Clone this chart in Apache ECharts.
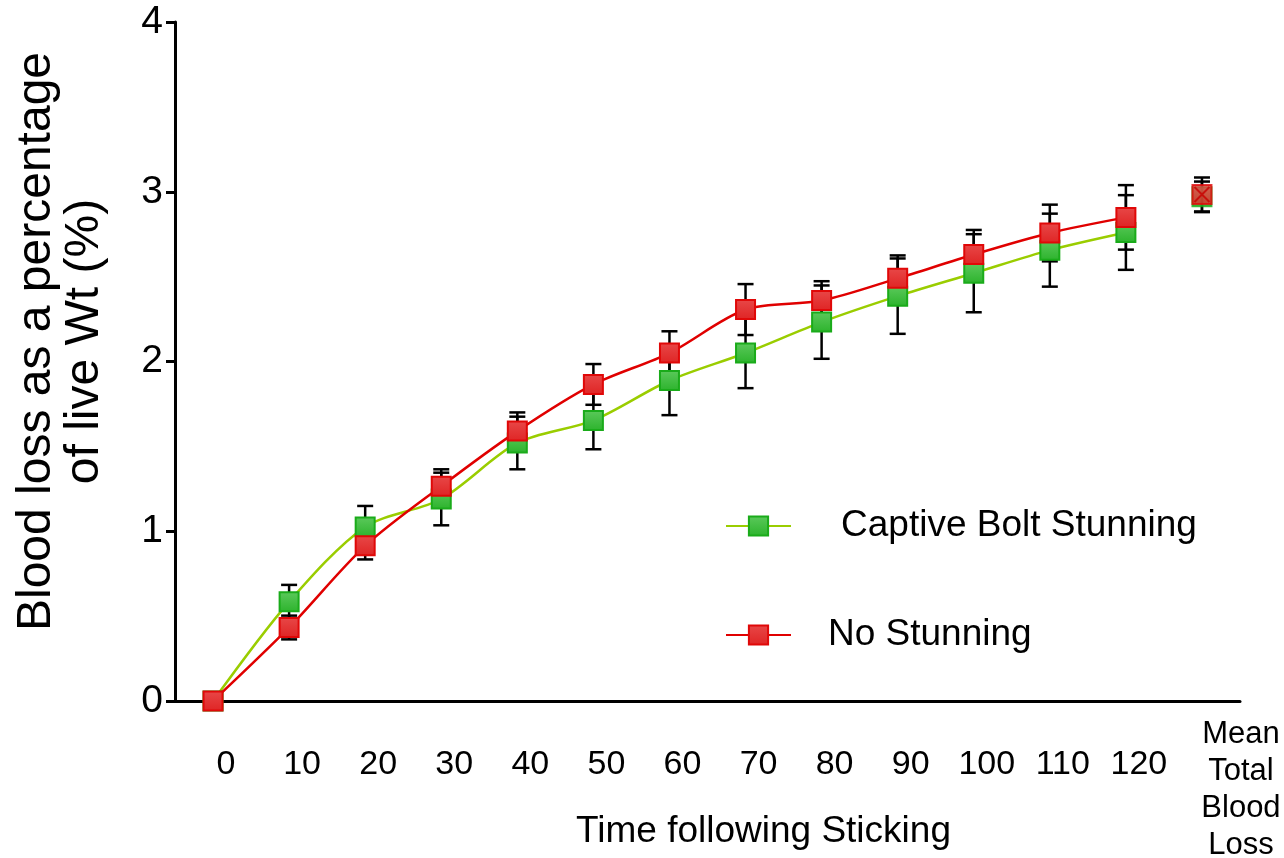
<!DOCTYPE html>
<html>
<head>
<meta charset="utf-8">
<script src="https://cdn.jsdelivr.net/npm/echarts@6/dist/echarts.min.js"></script>
<style>
  html, body { margin: 0; padding: 0; background: #fff; }
  #chart { width: 1284px; height: 858px; }
</style>
</head>
<body>
<div id="chart"></div>
<script>
// categories on the x axis (last one is the total)
let categories = ["0", "10", "20", "30", "40", "50", "60", "70", "80", "90", "100", "110", "120", "Mean\nTotal\nBlood\nLoss"];
let yTicks = [0, 1, 2, 3, 4];

// Captive Bolt Stunning: mean and error per time point
let boltMean = [0, 0.584, 1.025, 1.19, 1.52, 1.653, 1.888, 2.05, 2.232, 2.385, 2.52, 2.656, 2.76, 2.97];
let boltErr = [0, 0.10, 0.124, 0.155, 0.155, 0.17, 0.204, 0.207, 0.216, 0.222, 0.23, 0.215, 0.22, 0.09];

// No Stunning
let noneMean = [0, 0.433, 0.914, 1.265, 1.59, 1.865, 2.05, 2.306, 2.359, 2.49, 2.63, 2.757, 2.849, 2.984];
let noneErr = [0, 0.07, 0.08, 0.10, 0.11, 0.12, 0.128, 0.15, 0.114, 0.135, 0.145, 0.167, 0.19, 0.10];

const fontFam = '"Liberation Sans", Arial, sans-serif';
const last = categories.length - 1;

function lineData(arr) {
  return arr.map(function (v, i) { return i < last ? v : "-"; });
}
function totalData(arr) {
  return arr.map(function (v, i) { return i === last ? v : "-"; });
}
function errData(mean, err) {
  return mean.map(function (v, i) { return [i, v, err[i]]; });
}

function renderErr(params, api) {
  var i = api.value(0), m = api.value(1), e = api.value(2);
  if (!e) return;
  var hi = api.coord([i, m + e]);
  var lo = api.coord([i, m - e]);
  var w = 8;
  var st = { stroke: "#000", lineWidth: 2.5 };
  return {
    type: "group",
    children: [
      { type: "line", shape: { x1: hi[0], y1: hi[1], x2: lo[0], y2: lo[1] }, style: st },
      { type: "line", shape: { x1: hi[0] - w, y1: hi[1], x2: hi[0] + w, y2: hi[1] }, style: st },
      { type: "line", shape: { x1: lo[0] - w, y1: lo[1], x2: lo[0] + w, y2: lo[1] }, style: st }
    ]
  };
}

const greenFill = new echarts.graphic.LinearGradient(0, 0, 0, 1, [
  { offset: 0, color: "#5cc95c" }, { offset: 1, color: "#2cb32c" }
]);
const redFill = new echarts.graphic.LinearGradient(0, 0, 0, 1, [
  { offset: 0, color: "#e84848" }, { offset: 1, color: "#df2424" }
]);
const greenItem = { color: greenFill, borderColor: "#1aab1a", borderWidth: 2 };
const redItem = { color: redFill, borderColor: "#e00808", borderWidth: 2 };

var myChart = echarts.init(document.getElementById("chart"));

option = {
  animation: false,
  backgroundColor: "#fff",
  textStyle: { fontFamily: fontFam, color: "#000" },
  grid: { left: 175, right: 44, top: 22, bottom: 157, outerBoundsMode: "none", containLabel: false },
  legend: {
    orient: "vertical",
    left: 720,
    top: 501,
    itemWidth: 65,
    itemHeight: 24,
    itemGap: 69,
    data: ["Captive Bolt Stunning", "No Stunning"],
    formatter: function (n) {
      return n === "No Stunning" ? "{b|" + n + "}" : "{a|" + n + "}";
    },
    textStyle: {
      fontFamily: fontFam,
      color: "#000",
      fontSize: 37,
      lineHeight: 40,
      rich: {
        a: { fontSize: 37, fontFamily: fontFam, color: "#000", padding: [0, 0, 0, 45] },
        b: { fontSize: 37, fontFamily: fontFam, color: "#000", padding: [0, 0, 0, 32] }
      }
    }
  },
  xAxis: {
    type: "category",
    data: categories,
    boundaryGap: true,
    name: "Time following Sticking",
    nameLocation: "middle",
    nameGap: 112,
    nameMoveOverlap: false,
    nameTextStyle: { fontSize: 37, fontFamily: fontFam, color: "#000", padding: [0, 0, 0, 112] },
    axisLine: { lineStyle: { color: "#000", width: 3 } },
    axisTick: { length: 10, lineStyle: { color: "#000", width: 3 } },
    axisLabel: {
      interval: 0,
      margin: 12,
      color: "#000",
      formatter: function (v) {
        return v.indexOf("Mean") === 0 ? "{m|" + v + "}" : "{n|" + v + "}";
      },
      rich: {
        n: { fontSize: 34, fontFamily: fontFam, color: "#000", padding: [35, 0, 0, 26] },
        m: { fontSize: 31, lineHeight: 37, fontFamily: fontFam, color: "#000", padding: [6, 0, 0, 78] }
      }
    },
    splitLine: { show: false }
  },
  yAxis: {
    type: "value",
    min: 0,
    max: 4,
    interval: 1,
    name: "Blood loss as a percentage\nof live Wt (%)",
    nameLocation: "middle",
    nameGap: 66,
    nameMoveOverlap: false,
    nameTextStyle: { fontSize: 48, lineHeight: 48, fontFamily: fontFam, color: "#000", padding: [0, 0, 0, 40] },
    axisLine: { show: true, lineStyle: { color: "#000", width: 3 } },
    axisTick: { show: true, length: 9, lineStyle: { color: "#000", width: 3 } },
    axisLabel: {
      fontSize: 39,
      margin: 12,
      color: "#000",
      formatter: function (v) { return yTicks.indexOf(v) >= 0 ? String(v) : ""; }
    },
    splitLine: { show: false }
  },
  series: [
    {
      name: "Captive Bolt Stunning",
      type: "line",
      data: lineData(boltMean),
      smooth: 0.3,
      symbol: "rect",
      symbolSize: 19,
      lineStyle: { color: "#9acd00", width: 2.5 },
      itemStyle: greenItem,
      z: 3
    },
    {
      name: "No Stunning",
      type: "line",
      data: lineData(noneMean),
      smooth: 0.3,
      symbol: "rect",
      symbolSize: 19,
      lineStyle: { color: "#e00000", width: 2.5 },
      itemStyle: redItem,
      z: 4
    },
    {
      type: "custom",
      renderItem: renderErr,
      data: errData(boltMean, boltErr),
      encode: { x: 0, y: [1] },
      z: 2
    },
    {
      type: "custom",
      renderItem: renderErr,
      data: errData(noneMean, noneErr),
      encode: { x: 0, y: [1] },
      z: 2
    },
    {
      name: "Captive Bolt Stunning",
      type: "scatter",
      data: totalData(boltMean),
      symbol: "rect",
      symbolSize: 19,
      itemStyle: greenItem,
      z: 3
    },
    {
      name: "No Stunning",
      type: "scatter",
      data: totalData(noneMean),
      symbol: "rect",
      symbolSize: 19,
      itemStyle: redItem,
      z: 4
    },
    {
      type: "scatter",
      data: totalData(noneMean),
      symbol: "path://M0,0L10,10M10,0L0,10",
      symbolSize: 15,
      itemStyle: { color: "none", borderColor: "#c80000", borderWidth: 2 },
      z: 5
    }
  ]
};
myChart.setOption(option);
</script>
</body>
</html>
